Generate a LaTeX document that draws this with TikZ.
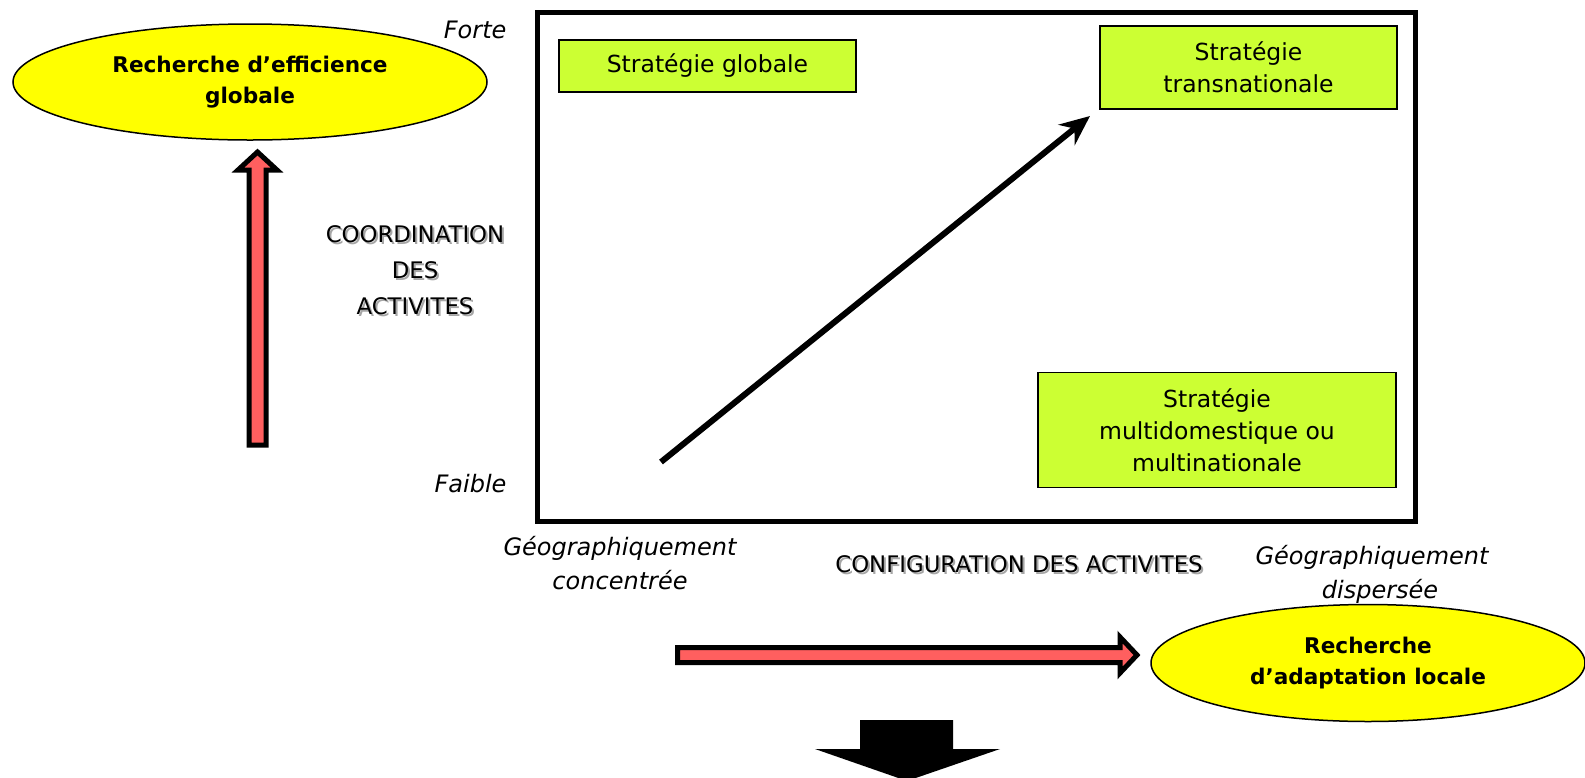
\documentclass[tikz,border=0pt]{standalone}
\usepackage{fontspec}
\setmainfont{DejaVu Sans}
\usetikzlibrary{arrows.meta,shapes.geometric}
\definecolor{stratfill}{HTML}{CCFF33}
\definecolor{ovalfill}{HTML}{FFFF00}
\definecolor{arrowred}{HTML}{FF5F5F}
\tikzset{
  stratbox/.style={draw, line width=1.5pt, fill=stratfill, align=center, inner sep=0pt,
    font=\fontsize{23.5}{32}\selectfont},
  oval/.style={ellipse, draw, line width=1.5pt, fill=ovalfill, align=center, inner sep=0pt,
    font=\fontsize{21.6}{31}\selectfont\bfseries},
  axislbl/.style={align=center, font=\fontsize{22.8}{36}\selectfont},
  axisshadow/.style={axislbl, text=black!35, xshift=2pt, yshift=-2pt},
  levellbl/.style={align=center, font=\fontsize{24}{34}\selectfont\itshape},
  blockarrow/.style={draw=black, fill=arrowred, line width=5pt, line join=miter}
}
\begin{document}
\begin{tikzpicture}[x=1pt,y=-1pt]
  \useasboundingbox (0,0) rectangle (1585,777);
  \clip (0,0) rectangle (1585,777);

  %%%%% cadre %%%%%
  \draw[line width=5pt] (537,12) rectangle (1415,521);

  \node[stratbox, minimum width=297pt, minimum height=52pt] (globale) at (707.5,66) {Stratégie globale};
  \node[stratbox, minimum width=297pt, minimum height=83pt] (transnat) at (1248.5,67.5) {Stratégie\\transnationale};
  \node[stratbox, minimum width=358pt, minimum height=115pt] (multidom) at (1217,430) {Stratégie\\multidomestique ou\\multinationale};

  \coordinate (diagA) at (661,462);
  \coordinate (diagB) at (1090,116);
  \draw[line width=6pt, -{Stealth[length=30pt,width=26pt,inset=10pt]}] (diagA) -- (diagB);

  %%%%% axes %%%%%
  \node[levellbl, anchor=east] (forte) at (510,30) {Forte};
  \node[levellbl, anchor=east] (faible) at (510,484) {Faible};
  \node[axisshadow] at (415,270) {COORDINATION\\DES\\ACTIVITES};
  \node[axislbl] (coord) at (415,270) {COORDINATION\\DES\\ACTIVITES};
  \node[levellbl] (concentree) at (620,563) {Géographiquement\\concentrée};
  \node[axisshadow] at (1019,564) {CONFIGURATION DES ACTIVITES};
  \node[axislbl] (config) at (1019,564) {CONFIGURATION DES ACTIVITES};
  \node[levellbl] (dispersee) at (1372,574) {Géographiquement\\\hspace*{16pt}dispersée};

  %%%%% ovales %%%%%
  \node[oval, minimum width=474pt, minimum height=116pt] (efficience) at (250,82) {Recherche d’efficience\\globale};
  \node[oval, minimum width=434pt, minimum height=117pt] (adaptation) at (1368,663) {Recherche\\d’adaptation locale};

  %%%%% fleches %%%%%
  \draw[blockarrow] (249,445) -- (249,170) -- (238,170) -- (257.5,152) -- (277,170)
    -- (266,170) -- (266,445) -- cycle;
  \draw[blockarrow] (677.5,647.5) -- (1120,647.5) -- (1120,637) -- (1137,655)
    -- (1120,673) -- (1120,662.5) -- (677.5,662.5) -- cycle;
  \fill (860,720) -- (953,720) -- (953,749) -- (1000,749) -- (907,781) -- (815,749)
    -- (860,749) -- cycle;
\end{tikzpicture}
\end{document}
